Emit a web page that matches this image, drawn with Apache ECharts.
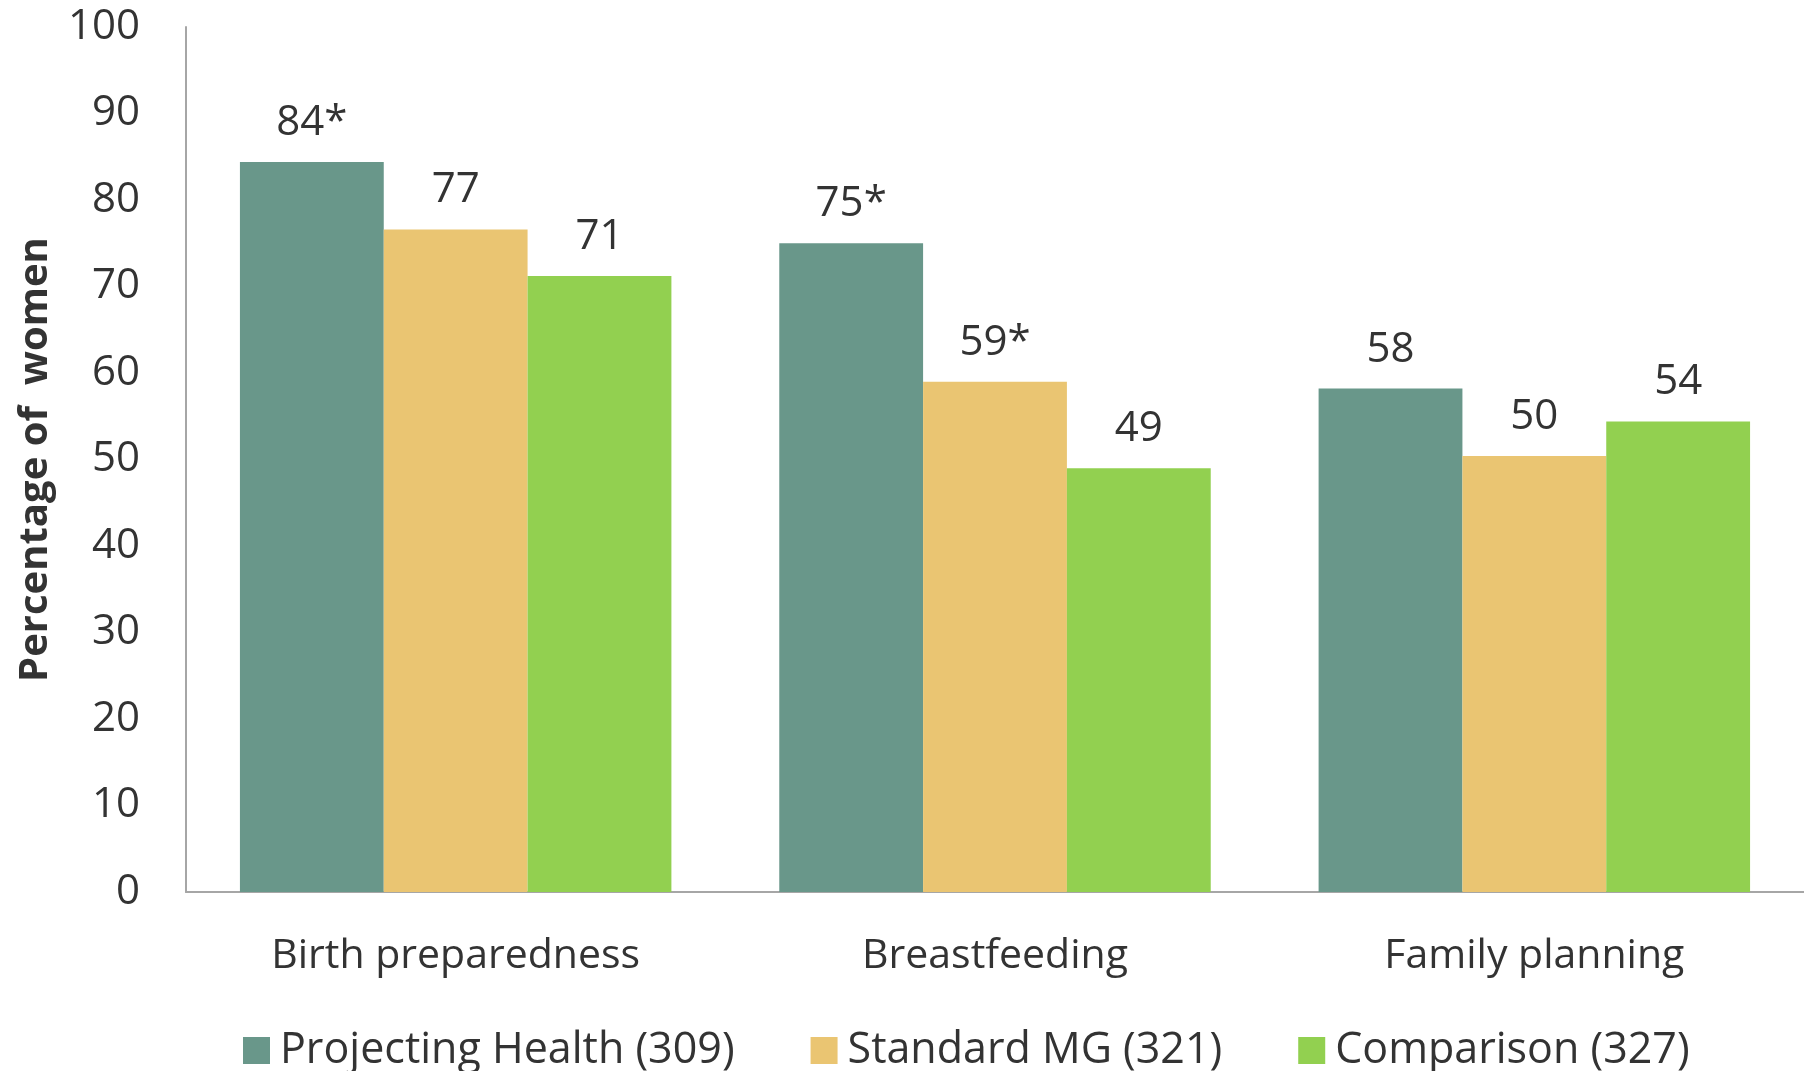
<!DOCTYPE html>
<html>
<head>
<meta charset="utf-8">
<script src="https://cdn.jsdelivr.net/npm/echarts@6/dist/echarts.min.js"></script>
<style>
  html, body { margin: 0; padding: 0; background: #fff; }
  #chart { width: 1804px; height: 1071px; }
</style>
</head>
<body>
<div id="chart"></div>
<script>
const categories = ['Birth preparedness', 'Breastfeeding', 'Family planning']
const seriesNames = ['Projecting Health (309)', 'Standard MG (321)', 'Comparison (327)']
const projectingHealth = [84.4, 75, 58.2]
const standardMG = [76.6, 59, 50.4]
const comparison = [71.2, 49, 54.4]
// labels as printed on the chart (* = significant)
const phLabels = ['84*', '75*', '58']
const smgLabels = ['77', '59*', '50']
const compLabels = ['71', '49', '54']
const yTicks = [0, 100, 10]

const colors = ['#69978A', '#EAC572', '#92D050']
const font = 'Open Sans'
const textColor = '#333'

const myChart = echarts.init(document.getElementById('chart'))

const makeSeries = (name, data, labels, color) => ({
  name: name,
  type: 'bar',
  data: data,
  barGap: '0%',
  barCategoryGap: '20%',
  itemStyle: { color: color },
  label: {
    show: true,
    position: 'top',
    distance: 18,
    fontFamily: font,
    fontSize: 42,
    color: textColor,
    formatter: p => labels[p.dataIndex]
  }
})

const option = {
  animation: false,
  grid: { left: 186, top: 27, right: 0, bottom: 179, outerBoundsMode: 'none' },
  legend: {
    data: seriesNames,
    left: 238,
    bottom: -6,
    itemWidth: 27,
    itemHeight: 27,
    itemGap: 76,
    icon: 'rect',
    textStyle: { fontFamily: font, fontSize: 43, color: textColor, padding: [0, 0, 0, 5] }
  },
  xAxis: {
    type: 'category',
    data: categories,
    axisLine: { lineStyle: { color: '#A6A6A6', width: 2 } },
    axisTick: { show: false },
    axisLabel: { fontFamily: font, fontSize: 41, color: textColor, margin: 44 }
  },
  yAxis: {
    type: 'value',
    min: yTicks[0],
    max: yTicks[1],
    interval: yTicks[2],
    name: 'Percentage of  women',
    nameLocation: 'middle',
    nameGap: 130,
    nameTextStyle: { fontFamily: font, fontSize: 40, fontWeight: 'bold', color: textColor },
    axisLine: { show: true, lineStyle: { color: '#A6A6A6', width: 2 } },
    axisTick: { show: false },
    splitLine: { show: false },
    axisLabel: { fontFamily: font, fontSize: 42, color: textColor, margin: 46 }
  },
  series: [
    makeSeries(seriesNames[0], projectingHealth, phLabels, colors[0]),
    makeSeries(seriesNames[1], standardMG, smgLabels, colors[1]),
    makeSeries(seriesNames[2], comparison, compLabels, colors[2])
  ]
}

myChart.setOption(option)
</script>
</body>
</html>
